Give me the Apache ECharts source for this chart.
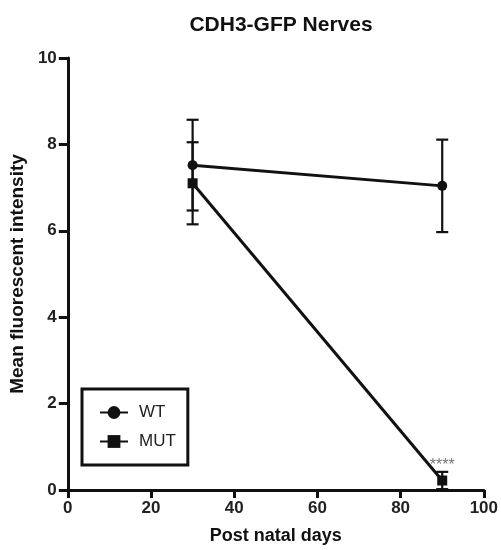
<!DOCTYPE html>
<html>
<head>
<meta charset="utf-8">
<script src="https://cdn.jsdelivr.net/npm/echarts@6/dist/echarts.min.js"></script>
<style>
  html, body { margin: 0; padding: 0; background: #fff; }
  #chart { width: 501px; height: 550px; }
</style>
</head>
<body>
<div id="chart"></div>
<script>
// data
const days = [30, 90]
const wtMean = [7.52, 7.04]
const wtSem = [1.05, 1.07]
const mutMean = [7.10, 0.22]
const mutSem = [0.95, 0.2]
const xTicks = [0, 20, 40, 60, 80, 100]
const yTicks = [0, 2, 4, 6, 8, 10]

const FONT = 'Liberation Sans, Arial, sans-serif'
const INK = '#111'

const chart = echarts.init(document.getElementById('chart'))

// error bar drawer: [x, low, high]
const errorBarItem = (params, api) => {
  const x = api.value(0)
  const top = api.coord([x, api.value(2)])
  const bot = api.coord([x, api.value(1)])
  const half = 6
  const style = { stroke: INK, lineWidth: 2.2 }
  return {
    type: 'group',
    children: [
      { type: 'line', shape: { x1: top[0], y1: top[1], x2: bot[0], y2: bot[1] }, style },
      { type: 'line', shape: { x1: top[0] - half, y1: top[1], x2: top[0] + half, y2: top[1] }, style },
      { type: 'line', shape: { x1: bot[0] - half, y1: bot[1], x2: bot[0] + half, y2: bot[1] }, style }
    ]
  }
}

const wtErr = days.map((d, i) => [d, wtMean[i] - wtSem[i], wtMean[i] + wtSem[i]])
const mutErr = days.map((d, i) => [d, Math.max(0, mutMean[i] - mutSem[i]), mutMean[i] + mutSem[i]])

const option = {
  animation: false,
  title: {
    text: 'CDH3-GFP Nerves',
    left: 276,
    textAlign: 'center',
    top: 10,
    textStyle: { fontFamily: FONT, fontSize: 21, fontWeight: 'bold', color: INK }
  },
  legend: {
    orient: 'vertical',
    left: 82,
    top: 389,
    padding: [15, 12, 15, 17],
    itemGap: 12,
    itemWidth: 28,
    itemHeight: 16,
    borderColor: INK,
    borderWidth: 3,
    data: ['WT', 'MUT'],
    textStyle: { fontFamily: FONT, fontSize: 17, color: '#222', padding: [0, 0, 0, 6] }
  },
  grid: { left: 66, right: 15, top: 58, bottom: 57 },
  xAxis: {
    type: 'value',
    min: 0,
    max: 100,
    interval: 20,
    name: 'Post natal days',
    nameLocation: 'middle',
    nameGap: 37,
    nameTextStyle: { fontFamily: FONT, fontSize: 18, fontWeight: 'bold', color: INK },
    splitLine: { show: false },
    axisLine: { lineStyle: { color: INK, width: 3 } },
    axisTick: { length: 8, lineStyle: { color: INK, width: 3 } },
    axisLabel: {
      fontFamily: FONT, fontSize: 17, fontWeight: 'bold', color: '#222', margin: 10,
      formatter: v => xTicks.includes(v) ? String(v) : ''
    }
  },
  yAxis: {
    type: 'value',
    min: 0,
    max: 10,
    interval: 2,
    name: 'Mean fluorescent intensity',
    nameLocation: 'middle',
    nameGap: 34,
    nameTextStyle: { fontFamily: FONT, fontSize: 19, fontWeight: 'bold', color: INK },
    splitLine: { show: false },
    axisLine: { show: true, lineStyle: { color: INK, width: 3 } },
    axisTick: { show: true, length: 9, lineStyle: { color: INK, width: 3 } },
    axisLabel: {
      fontFamily: FONT, fontSize: 17, fontWeight: 'bold', color: '#222', margin: 11,
      formatter: v => yTicks.includes(v) ? String(v) : ''
    }
  },
  series: [
    {
      name: 'WT',
      type: 'line',
      data: days.map((d, i) => [d, wtMean[i]]),
      symbol: 'circle',
      symbolSize: 10,
      lineStyle: { color: INK, width: 3 },
      itemStyle: { color: INK },
      z: 3
    },
    {
      name: 'MUT',
      type: 'line',
      data: days.map((d, i) => {
        const item = { value: [d, mutMean[i]] }
        if (i === 1) {
          item.label = {
            show: true, position: 'top', distance: 2, formatter: '****',
            fontFamily: FONT, fontSize: 16, color: '#777'
          }
        }
        return item
      }),
      symbol: 'rect',
      symbolSize: 10,
      lineStyle: { color: INK, width: 3 },
      itemStyle: { color: INK },
      z: 3
    },
    {
      type: 'custom',
      renderItem: errorBarItem,
      data: wtErr,
      encode: { x: 0, y: [1, 2] },
      z: 2
    },
    {
      type: 'custom',
      renderItem: errorBarItem,
      data: mutErr,
      encode: { x: 0, y: [1, 2] },
      z: 2
    }
  ]
}

chart.setOption(option)
</script>
</body>
</html>
